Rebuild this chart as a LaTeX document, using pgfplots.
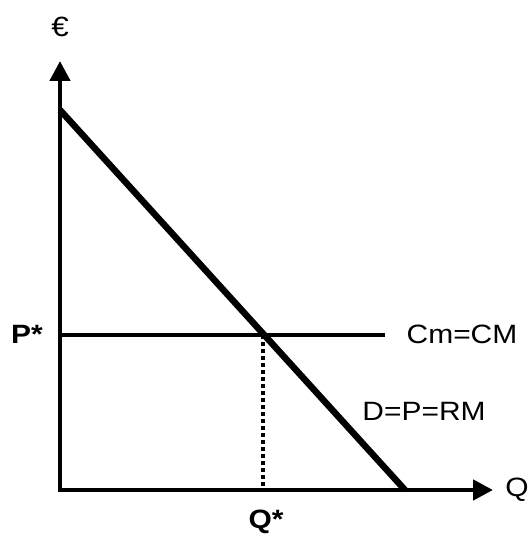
\documentclass[border=0pt]{standalone}
\usepackage{pgfplots}
\pgfplotsset{compat=1.18}
\usepackage{fontspec}
\setmainfont{Liberation Sans}
\usetikzlibrary{arrows.meta}

\newcommand{\lbl}[1]{\scalebox{1.13}[1]{\fontsize{26.5bp}{30bp}\selectfont #1}}

\begin{document}
\begin{tikzpicture}
\begin{axis}[
    width=532bp, height=534bp, scale only axis,
    xmin=-60, xmax=472, ymin=-44, ymax=490,
    hide axis, clip=false,
    ]
    \path (rel axis cs:0,0) rectangle (rel axis cs:1,1);

    % axes
    \draw[line width=4.6bp, line join=miter,
          {Triangle[length=20bp,width=20bp]}-{Triangle[length=20bp,width=20bp]}]
        (axis cs:0,429) -- (axis cs:0,0) -- (axis cs:433,0);

    % demand D=P=RM
    \addplot[black, line width=6.5bp, line cap=butt] coordinates {(0,380) (345,0)};
    % Cm = CM
    \addplot[black, line width=4.8bp] coordinates {(0,155) (325,155)};
    % Q* guide
    \addplot[black, line width=3.5bp, dash pattern=on 4bp off 3bp] coordinates {(203,155) (203,0)};

    \node[inner sep=0pt] at (axis cs:0,463) {\lbl{\scalebox{1.05}{€}}};
    \node[inner sep=0pt] at (axis cs:457,0) {\lbl{Q}};
    \node[inner sep=0pt] at (axis cs:-33,156) {\lbl{\bfseries P*}};
    \node[inner sep=0pt] at (axis cs:206,-32) {\lbl{\bfseries Q*}};
    \node[inner sep=0pt] at (axis cs:402,156) {\lbl{Cm=CM}};
    \node[inner sep=0pt] at (axis cs:364,79) {\lbl{D=P=RM}};
\end{axis}
\end{tikzpicture}
\end{document}
